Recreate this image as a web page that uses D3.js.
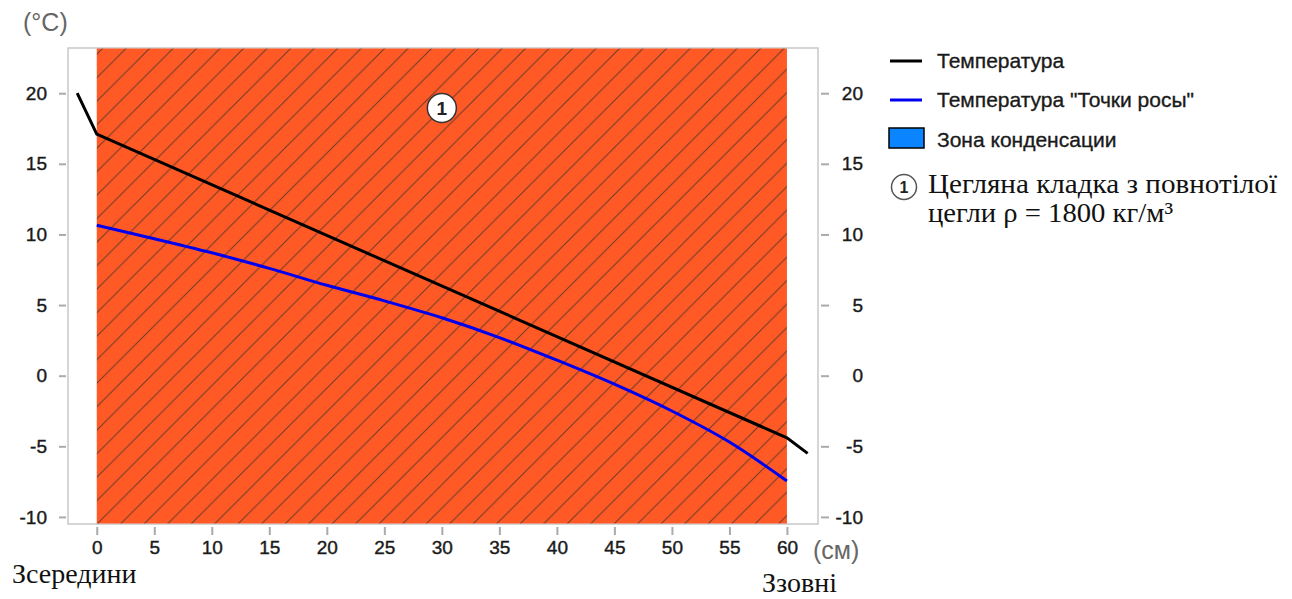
<!DOCTYPE html>
<html>
<head>
<meta charset="utf-8">
<script src="https://cdn.jsdelivr.net/npm/d3@7"></script>
<style>
  body { margin: 0; background: #fff; }
  svg { display: block; }
</style>
</head>
<body>
<div id="chart"></div>
<script>
// дані
var xTicks = [0, 5, 10, 15, 20, 25, 30, 35, 40, 45, 50, 55, 60];
var yTicks = [-10, -5, 0, 5, 10, 15, 20];
var tempX = [-1.7, 0, 60, 61.8];
var tempY = [20, 17.1, -4.4, -5.5];
var dewX = [0, 5, 10, 15, 20, 25, 30, 35, 40, 45, 50, 55, 60];
var dewY = [10.65, 9.7, 8.7, 7.6, 6.4, 5.3, 4.1, 2.7, 1.1, -0.6, -2.5, -4.7, -7.45];
var layerStart = [0];
var layerEnd = [60];
var layerLabel = ["1"];
var legendNames = ["Температура", "Температура \"Точки росы\"", "Зона конденсации"];
var layerNames = ["Цегляна кладка з повнотілої", "цегли ρ = 1800 кг/м³"];

var sans = "Liberation Sans, Arial, sans-serif";
var serif = "Liberation Serif, Times New Roman, serif";

var svg = d3.select("#chart").append("svg").attr("width", 1292).attr("height", 599);

var x = d3.scaleLinear().domain([-2.5, 62.7]).range([68, 818]);
var y = d3.scaleLinear().domain([-10.5, 23.2]).range([524, 48]);

// штриховка
var defs = svg.append("defs");
var pat = defs.append("pattern").attr("id", "hatch").attr("patternUnits", "userSpaceOnUse")
  .attr("width", 23.5).attr("height", 23.5).attr("x", 97).attr("y", 524);
pat.append("rect").attr("width", 23.5).attr("height", 23.5).attr("fill", "#ff5a26");
pat.append("path").attr("d", "M-2,25.5 L25.5,-2 M-5,5 L5,-5 M18.5,28.5 L28.5,18.5")
  .attr("stroke", "#6b3a28").attr("stroke-width", 1).attr("fill", "none");

// рамка
svg.append("rect").attr("x", 68).attr("y", 48).attr("width", 750).attr("height", 476)
  .attr("fill", "#fff").attr("stroke", "#c8c8c8").attr("stroke-width", 1.5);

// шар
svg.selectAll(".layer").data(layerStart).enter().append("rect")
  .attr("x", function(d){ return x(d); })
  .attr("y", 48.5)
  .attr("width", function(d, i){ return x(layerEnd[i]) - x(d); })
  .attr("height", 475)
  .attr("fill", "url(#hatch)");

// осі
var fmt = function(d){ return String(d); };
var yAxisL = d3.axisLeft(y).tickValues(yTicks).tickFormat(fmt).tickSize(7).tickPadding(12);
var gl = svg.append("g").attr("transform", "translate(66,0)").call(yAxisL);
var yAxisR = d3.axisRight(y).tickValues(yTicks).tickFormat(fmt).tickSize(8).tickPadding(14);
var gr = svg.append("g").attr("transform", "translate(821,0)").call(yAxisR);
var xAxis = d3.axisBottom(x).tickValues(xTicks).tickFormat(fmt).tickSize(8).tickPadding(6);
var gx = svg.append("g").attr("transform", "translate(0,527)").call(xAxis);

[gl, gr, gx].forEach(function(g){
  g.select(".domain").remove();
  g.selectAll(".tick line").attr("stroke", "#aaa").attr("stroke-width", 2);
  g.selectAll(".tick text").attr("fill", "#1a1a1a").attr("stroke", "#1a1a1a").attr("stroke-width", 0.4)
    .style("font-family", sans).style("font-size", "19px");
});
gr.selectAll(".tick text").attr("text-anchor", "end").attr("x", 42);

// лінії
var line = d3.line().x(function(d){ return x(d[0]); }).y(function(d){ return y(d[1]); });
var curve = d3.line().curve(d3.curveMonotoneX).x(function(d){ return x(d[0]); }).y(function(d){ return y(d[1]); });
svg.append("path").attr("d", curve(d3.zip(dewX, dewY)))
  .attr("fill", "none").attr("stroke", "#0000ee").attr("stroke-width", 3);
svg.append("path").attr("d", line(d3.zip(tempX, tempY)))
  .attr("fill", "none").attr("stroke", "#000").attr("stroke-width", 3);

// мітка шару
layerStart.forEach(function(d, i){
  var cx = x((d + layerEnd[i]) / 2);
  svg.append("circle").attr("cx", cx).attr("cy", 108).attr("r", 14.5)
    .attr("fill", "#fff").attr("stroke", "#333").attr("stroke-width", 1.5);
  svg.append("text").attr("x", cx).attr("y", 115).attr("text-anchor", "middle")
    .style("font-family", sans).style("font-size", "19px").style("font-weight", "bold")
    .attr("fill", "#222").text(layerLabel[i]);
});

// підписи осей
svg.append("text").attr("x", 23).attr("y", 31).attr("fill", "#666")
  .style("font-family", sans).style("font-size", "25px").text("(°C)");
svg.append("text").attr("x", 813).attr("y", 559).attr("fill", "#666")
  .style("font-family", sans).style("font-size", "25px").text("(см)");
svg.append("text").attr("x", 12).attr("y", 583).attr("fill", "#111")
  .style("font-family", serif).style("font-size", "28px").text("Зсередини");
svg.append("text").attr("x", 762).attr("y", 592).attr("fill", "#111")
  .style("font-family", serif).style("font-size", "28px").text("Ззовні");

// легенда
var lg = svg.append("g");
lg.append("line").attr("x1", 890).attr("x2", 922).attr("y1", 61).attr("y2", 61).attr("stroke", "#000").attr("stroke-width", 3);
lg.append("line").attr("x1", 890).attr("x2", 922).attr("y1", 100).attr("y2", 100).attr("stroke", "#0000ee").attr("stroke-width", 3);
lg.append("rect").attr("x", 889).attr("y", 128).attr("width", 35).attr("height", 20)
  .attr("fill", "#0a84ff").attr("stroke", "#000").attr("stroke-width", 1.5);
[68, 107, 147].forEach(function(yy, i){
  lg.append("text").attr("x", 937).attr("y", yy).attr("fill", "#1a1a1a")
    .attr("stroke", "#1a1a1a").attr("stroke-width", 0.35)
    .style("font-family", sans).style("font-size", "21px").text(legendNames[i]);
});
lg.append("circle").attr("cx", 904).attr("cy", 187).attr("r", 12.5)
  .attr("fill", "#fff").attr("stroke", "#555").attr("stroke-width", 1.5);
lg.append("text").attr("x", 904).attr("y", 193).attr("text-anchor", "middle").attr("fill", "#222")
  .style("font-family", sans).style("font-size", "16px").style("font-weight", "bold").text(layerLabel[0]);
var nameW = [349, 245];
layerNames.forEach(function(t, i){
  lg.append("text").attr("x", 928).attr("y", 193 + i * 29).attr("fill", "#111")
    .attr("textLength", nameW[i]).attr("lengthAdjust", "spacingAndGlyphs")
    .style("font-family", serif).style("font-size", "28px").text(t);
});
</script>
</body>
</html>
